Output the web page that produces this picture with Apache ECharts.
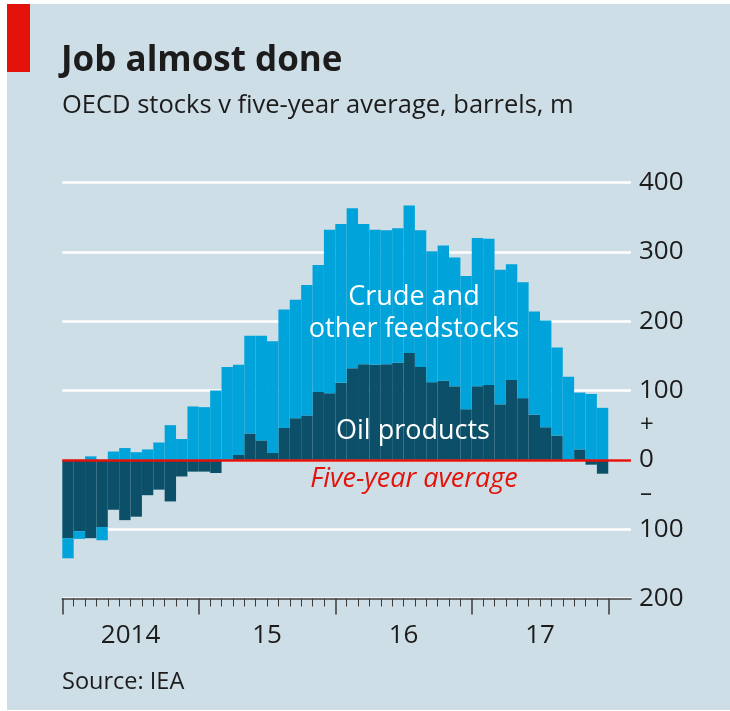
<!DOCTYPE html>
<html>
<head>
<meta charset="utf-8">
<script src="https://cdn.jsdelivr.net/npm/echarts@6/dist/echarts.min.js"></script>
<style>
  html, body { margin: 0; padding: 0; background: #fff; }
  #chart { width: 730px; height: 711px; }
</style>
</head>
<body>
<div id="chart"></div>
<script>
// year labels under the axis
var years = ['2014', '15', '16', '17'];

// monthly stocks v five-year average, barrels m, Jan 2014 - Dec 2017
var oilProducts = [
    -113, -103, -113, -97, -72, -87, -82, -51, -43, -60, -24, -17,
    -17, -19, 0, 7, 38, 28, 10, 46, 60, 64, 98, 96,
    111, 132, 138, 137, 138, 140, 154, 134, 112, 114, 106, 73,
    106, 108, 80, 115, 89, 65, 47, 35, 0, 15, -7, -20
];
var crude = [
    -29, -11, 5, -19, 12, 17, 11, 15, 25, 50, 30, 77,
    76, 100, 134, 130, 141, 151, 161, 171, 171, 188, 183, 236,
    229, 231, 202, 195, 193, 194, 213, 197, 189, 195, 186, 192,
    214, 211, 194, 167, 167, 149, 154, 127, 120, 82, 95, 75
];

// axis runs two months past the last bar
var months = [];
for (var y = 2014; y <= 2018; y++) {
    for (var m = 1; m <= 12; m++) {
        months.push(y + '-' + (m < 10 ? '0' + m : m));
    }
}
months = months.slice(0, 50);

var dark = '#0b4f69';
var light = '#00a3da';
var red = '#e3120b';
var ink = '#1c1c1c';
var font = '"Open Sans", "Noto Sans", sans-serif';

var chart = echarts.init(document.getElementById('chart'));

function label(txt, x, y, size, color, extra) {
    return {
        type: 'text', x: x, y: y, z: 100,
        style: {
            text: txt,
            font: (extra || '') + size + 'px ' + font,
            fill: color,
            align: 'center',
            verticalAlign: 'middle'
        }
    };
}

var option = {
    animation: false,
    backgroundColor: '#cedee6',
    grid: [
        {left: 62.3, right: 99, top: 182.5, bottom: 112.5},
        {left: 62.3, right: 121.7, top: 182.5, bottom: 112.5}
    ],
    xAxis: [
        {
            type: 'category',
            gridIndex: 0,
            position: 'bottom',
            data: months,
            axisLine: {show: true, onZero: false, lineStyle: {color: '#3a3a3a', width: 1.5}},
            axisTick: {show: false},
            axisLabel: {show: false}
        },
        {
            type: 'value',
            gridIndex: 1,
            position: 'bottom',
            min: 0,
            max: 48,
            interval: 12,
            axisLine: {show: false, onZero: false},
            axisTick: {show: true, length: 16, lineStyle: {color: '#3a3a3a', width: 1.5}},
            minorTick: {show: true, splitNumber: 12, length: 8, lineStyle: {color: '#3a3a3a', width: 1}},
            axisLabel: {show: false},
            splitLine: {show: false}
        },
        {
            type: 'category',
            gridIndex: 1,
            position: 'bottom',
            data: years,
            axisLine: {show: false, onZero: false},
            axisTick: {show: false},
            axisLabel: {
                margin: 24,
                fontFamily: font,
                fontSize: 26,
                color: ink
            }
        }
    ],
    yAxis: [
        {
            type: 'value',
            gridIndex: 0,
            position: 'right',
            min: -200,
            max: 400,
            interval: 100,
            axisLine: {show: false},
            axisTick: {show: false},
            splitLine: {lineStyle: {color: '#ffffff', width: 2.5}},
            axisLabel: {
                margin: 8,
                fontFamily: font,
                fontSize: 26,
                color: ink,
                formatter: function (v) { return String(Math.abs(v)); }
            }
        },
        {
            type: 'value',
            gridIndex: 0,
            position: 'right',
            min: -200,
            max: 400,
            interval: 50,
            axisLine: {show: false},
            axisTick: {show: false},
            splitLine: {show: false},
            axisLabel: {
                margin: 9,
                fontFamily: font,
                fontSize: 24,
                color: ink,
                formatter: function (v) {
                    if (v === 50) return '+';
                    if (v === -50) return '\u2013';
                    return '';
                }
            }
        },
        {
            type: 'value',
            gridIndex: 1,
            min: -200,
            max: 400,
            show: false
        }
    ],
    series: [
        {
            name: 'Oil products',
            type: 'bar',
            stack: 'stocks',
            xAxisIndex: 0,
            yAxisIndex: 0,
            barCategoryGap: '0%',
            itemStyle: {color: dark},
            data: oilProducts
        },
        {
            name: 'Crude and other feedstocks',
            type: 'bar',
            stack: 'stocks',
            xAxisIndex: 0,
            yAxisIndex: 0,
            barCategoryGap: '0%',
            itemStyle: {color: light},
            data: crude,
            markLine: {
                silent: true,
                symbol: ['none', 'none'],
                label: {show: false},
                lineStyle: {color: red, width: 2.5, type: 'solid'},
                data: [{yAxis: 0}]
            }
        }
    ],
    graphic: [
        {type: 'rect', shape: {x: 0, y: 0, width: 730, height: 4}, style: {fill: '#fff'}},
        {type: 'rect', shape: {x: 0, y: 0, width: 7, height: 711}, style: {fill: '#fff'}},
        {type: 'rect', shape: {x: 0, y: 710, width: 730, height: 1}, style: {fill: '#fff'}},
        {type: 'rect', shape: {x: 7, y: 4, width: 23, height: 68}, style: {fill: red}},
        {
            type: 'text', x: 61, y: 61, z: 100,
            style: {text: 'Job almost done', font: 'bold 35px ' + font, fill: ink, verticalAlign: 'middle'}
        },
        {
            type: 'text', x: 62, y: 106, z: 100,
            style: {text: 'OECD stocks v five-year average, barrels, m', font: '25.5px ' + font, fill: ink, verticalAlign: 'middle'}
        },
        label('Crude and', 414, 297, 27, '#fff'),
        label('other feedstocks', 414, 329, 27, '#fff'),
        label('Oil products', 413, 431, 27, '#fff'),
        label('Five-year average', 414, 479, 27, red, 'italic '),
        {
            type: 'text', x: 62, y: 682, z: 100,
            style: {text: 'Source: IEA', font: '23.5px ' + font, fill: ink, verticalAlign: 'middle'}
        }
    ]
};

chart.setOption(option);
</script>
</body>
</html>
